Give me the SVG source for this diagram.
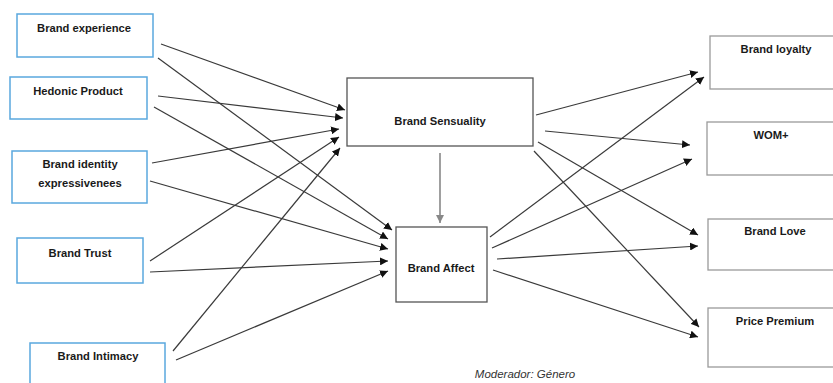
<svg xmlns="http://www.w3.org/2000/svg" width="833" height="383" viewBox="0 0 833 383">
<defs>
<marker id="ah" viewBox="0 0 10 10" refX="10" refY="5" markerWidth="8" markerHeight="8" markerUnits="userSpaceOnUse" orient="auto"><path d="M0,0 L10,5 L0,10 z" fill="#111"/></marker>
<marker id="ahg" viewBox="0 0 10 10" refX="10" refY="5" markerWidth="8" markerHeight="8" markerUnits="userSpaceOnUse" orient="auto"><path d="M0,0 L10,5 L0,10 z" fill="#888"/></marker>
<style>
.lb{fill:#fff;stroke:#5aa8de;stroke-width:1.5}
.cb{fill:#fff;stroke:#555;stroke-width:1.3}
.rb{fill:#fff;stroke:#9a9a9a;stroke-width:1.3}
.t{font-family:"Liberation Sans",Arial,sans-serif;font-size:11.2px;font-weight:bold;fill:#1a1a1a;text-anchor:middle}
.c{stroke:#3a3a3a;stroke-width:1.2;fill:none;marker-end:url(#ah)}
.m{font-family:"Liberation Sans",Arial,sans-serif;font-size:11.5px;font-style:italic;fill:#333;text-anchor:middle}
</style>
</defs>
<rect width="833" height="383" fill="#fff"/>
<g id="connectors">
<line class="c" x1="161" y1="44" x2="345" y2="110"/>
<line class="c" x1="158" y1="58" x2="392" y2="230"/>
<line class="c" x1="158" y1="96" x2="343" y2="118"/>
<line class="c" x1="154" y1="107" x2="388" y2="239"/>
<line class="c" x1="152" y1="163" x2="339" y2="129"/>
<line class="c" x1="150" y1="181" x2="388" y2="249"/>
<line class="c" x1="150" y1="261" x2="339" y2="137"/>
<line class="c" x1="150" y1="272" x2="388" y2="261"/>
<line class="c" x1="173" y1="351" x2="340" y2="148"/>
<line class="c" x1="176" y1="360" x2="388" y2="271"/>
<line x1="440" y1="153" x2="440" y2="223" stroke="#888" stroke-width="1.6" marker-end="url(#ahg)"/>
<line class="c" x1="536" y1="115" x2="698" y2="72"/>
<line class="c" x1="545" y1="131" x2="690" y2="145"/>
<line class="c" x1="538" y1="142" x2="698" y2="235"/>
<line class="c" x1="534" y1="151" x2="699" y2="327"/>
<line class="c" x1="490" y1="237" x2="704" y2="77"/>
<line class="c" x1="492" y1="248" x2="692" y2="159"/>
<line class="c" x1="497" y1="259" x2="698" y2="246"/>
<line class="c" x1="493" y1="270" x2="698" y2="337"/>
</g>
<g id="brand-experience"><rect class="lb" x="17" y="14" width="136" height="43"/><text class="t" x="84" y="32">Brand experience</text></g>
<g id="hedonic-product"><rect class="lb" x="10" y="77" width="137" height="42"/><text class="t" x="78" y="95">Hedonic Product</text></g>
<g id="brand-identity"><rect class="lb" x="12" y="151" width="135" height="52"/><text class="t" x="80" y="168">Brand identity</text><text class="t" x="80" y="187">expressivenees</text></g>
<g id="brand-trust"><rect class="lb" x="17" y="238" width="126" height="45"/><text class="t" x="80" y="257">Brand Trust</text></g>
<g id="brand-intimacy"><rect class="lb" x="30" y="343" width="135" height="50"/><text class="t" x="98" y="360">Brand Intimacy</text></g>
<g id="brand-sensuality"><rect class="cb" x="347" y="78" width="186" height="68"/><text class="t" x="440" y="125">Brand Sensuality</text></g>
<g id="brand-affect"><rect class="cb" x="396" y="227" width="91" height="75"/><text class="t" x="441" y="272">Brand Affect</text></g>
<g id="brand-loyalty"><rect class="rb" x="710" y="36" width="130" height="53"/><text class="t" x="776" y="53">Brand loyalty</text></g>
<g id="wom"><rect class="rb" x="707" y="122" width="133" height="53"/><text class="t" x="771" y="139">WOM+</text></g>
<g id="brand-love"><rect class="rb" x="708" y="219" width="132" height="51"/><text class="t" x="775" y="235">Brand Love</text></g>
<g id="price-premium"><rect class="rb" x="708" y="308" width="132" height="59"/><text class="t" x="775" y="325">Price Premium</text></g>
<text class="m" x="525" y="378">Moderador: Género</text>
</svg>
